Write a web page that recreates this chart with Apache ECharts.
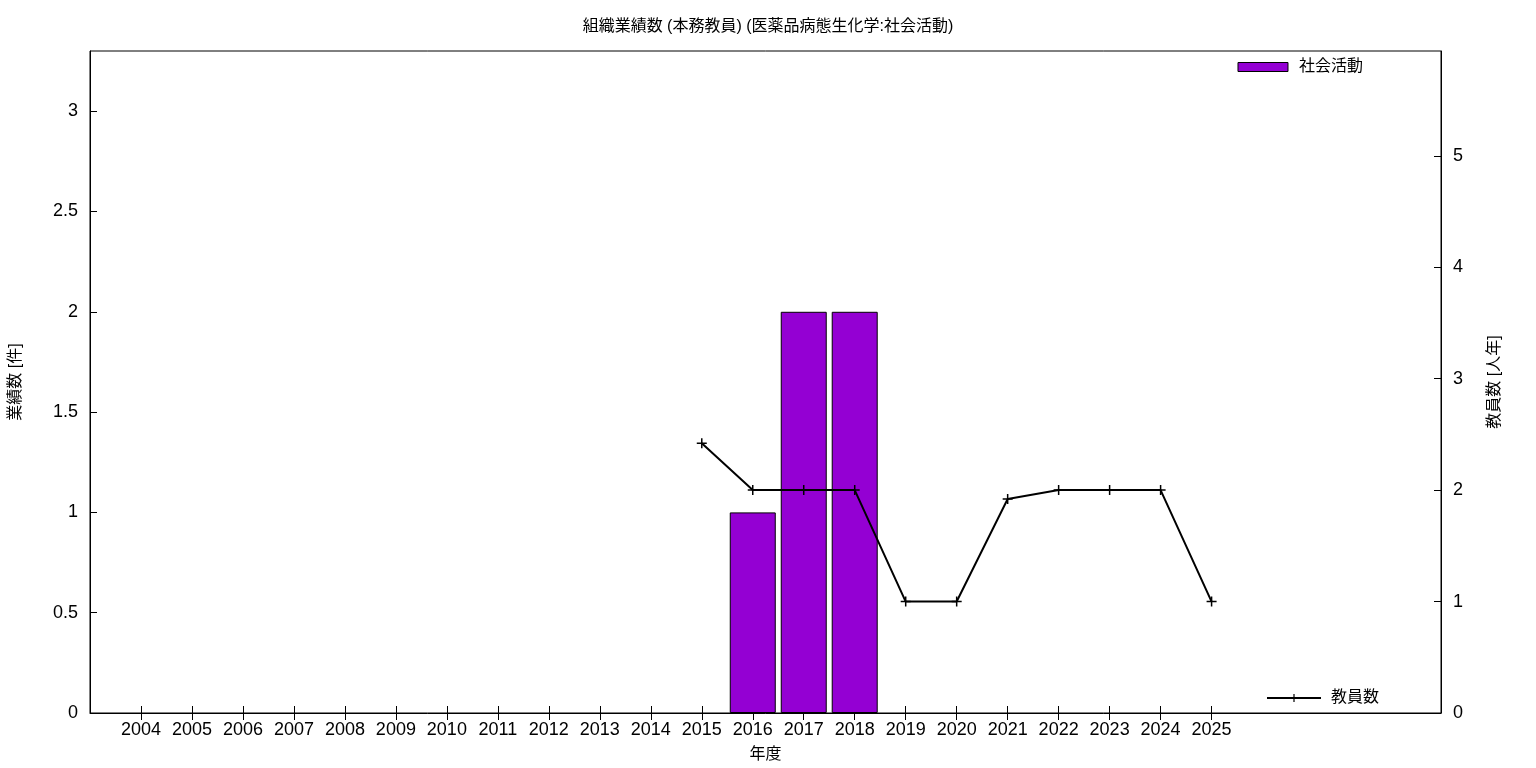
<!DOCTYPE html>
<html><head><meta charset="utf-8">
<script src="https://cdn.jsdelivr.net/npm/echarts@6/dist/echarts.min.js"></script>
<style>html,body{margin:0;padding:0;background:#fff}#c{width:1536px;height:768px}</style>
</head><body><div id="c"></div>
<script>
const years = [2004,2005,2006,2007,2008,2009,2010,2011,2012,2013,2014,2015,2016,2017,2018,2019,2020,2021,2022,2023,2024,2025];
const barYears = [2016, 2017, 2018];
const barValues = [1, 2, 2];
const lineYears = [2015,2016,2017,2018,2019,2020,2021,2022,2023,2024,2025];
const lineValues = [2.42,2,2,2,1,1,1.92,2,2,2,1];
const leftTicks = [0,0.5,1,1.5,2,2.5,3];
const rightTicks = [0,1,2,3,4,5];

const font = "'Liberation Sans', 'Noto Sans CJK JP', sans-serif";
const plus = 'path://M-0.15,-1H0.15V1H-0.15Z M-1,-0.15H1V0.15H-1Z';
const chart = echarts.init(document.getElementById('c'));
chart.setOption({
  animation: false,
  textStyle: {fontFamily: font, color: '#000'},
  title: {text: '組織業績数 (本務教員) (医薬品病態生化学:社会活動)', left: 'center', top: 14,
    textStyle: {fontSize: 16, fontWeight: 'normal', color: '#000', fontFamily: font}},
  grid: {left: 88, right: 95, top: 51, bottom: 55, show: true, borderColor: '#000', borderWidth: 1, backgroundColor: 'transparent'},
  legend: [
    {data: [{name: '社会活動', icon: 'rect', itemStyle: {borderWidth: 1, borderColor: '#000'}}], right: 168, top: 54, itemWidth: 50, itemHeight: 9, itemGap: 10,
     textStyle: {fontSize: 16, color: '#000', fontFamily: font, padding: [0, 0, 0, 6]}},
    {data: ['教員数'], right: 152, bottom: 57, itemWidth: 54, itemHeight: 10,
     textStyle: {fontSize: 16, color: '#000', fontFamily: font, padding: [0, 0, 0, 5]}}
  ],
  xAxis: [
    {type: 'value', min: 2003, max: 2029.5, interval: 1, position: 'bottom',
     name: '年度', nameLocation: 'middle', nameGap: 34, nameTextStyle: {fontSize: 16, color: '#000'},
     axisLine: {show: true, lineStyle: {color: '#000'}},
     axisTick: {show: true, inside: true, length: 7, lineStyle: {color: '#000'}, customValues: years},
     axisLabel: {fontSize: 18, color: '#000', margin: 8, customValues: years, formatter: v => String(v)},
     splitLine: {show: false}},
    {type: 'value', min: 2003, max: 2029.5, interval: 1, position: 'top',
     axisLine: {show: false},
     axisTick: {show: true, inside: true, length: 7, lineStyle: {color: '#000'}, customValues: years},
     axisLabel: {show: false}, splitLine: {show: false}}
  ],
  yAxis: [
    {type: 'value', min: 0, max: 3.3, interval: 0.5, position: 'left',
     name: '業績数 [件]', nameLocation: 'middle', nameGap: 66, nameRotate: 90,
     nameTextStyle: {fontSize: 16, color: '#000'},
     axisLine: {show: true, lineStyle: {color: '#000'}},
     axisTick: {show: true, inside: true, length: 7, lineStyle: {color: '#000'}, customValues: leftTicks},
     axisLabel: {fontSize: 18, color: '#000', margin: 12, customValues: leftTicks, formatter: v => String(v)},
     splitLine: {show: false}},
    {type: 'value', min: 0, max: 5.94, interval: 1, position: 'right',
     name: '教員数 [人年]', nameLocation: 'middle', nameGap: 46, nameRotate: 90,
     nameTextStyle: {fontSize: 16, color: '#000'},
     axisLine: {show: true, lineStyle: {color: '#000'}},
     axisTick: {show: true, inside: true, length: 7, lineStyle: {color: '#000'}, customValues: rightTicks},
     axisLabel: {fontSize: 18, color: '#000', margin: 12, customValues: rightTicks, formatter: v => String(v)},
     splitLine: {show: false}}
  ],
  series: [
    {name: '社会活動', type: 'bar', xAxisIndex: 0, yAxisIndex: 0, barWidth: 46,
     data: barYears.map((y, i) => [y, barValues[i]]),
     itemStyle: {color: '#9400d3', borderColor: '#000', borderWidth: 1}},
    {name: '教員数', type: 'line', xAxisIndex: 0, yAxisIndex: 1,
     data: lineYears.map((y, i) => [y, lineValues[i]]),
     symbol: plus, symbolSize: 10, showAllSymbol: true,
     lineStyle: {color: '#000', width: 2}, itemStyle: {color: '#000'}}
  ]
});
</script></body></html>
